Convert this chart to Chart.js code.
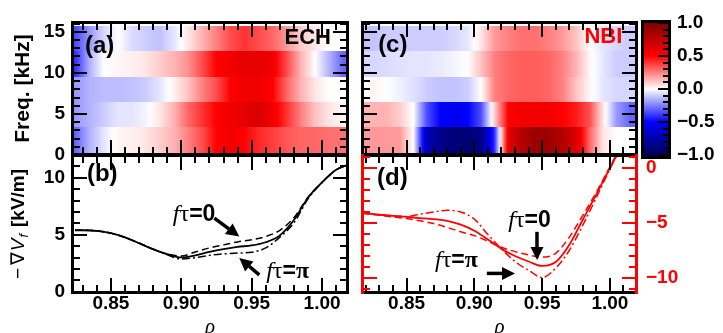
<!DOCTYPE html>
<html>
<head>
<meta charset="utf-8">
<script src="https://cdn.jsdelivr.net/npm/chart.js@4.4.1/dist/chart.umd.min.js"></script>
<style>
body{margin:0;background:#fff;}
#wrap{position:relative;width:723px;height:333px;overflow:hidden;}
#wrap canvas{position:absolute;left:0;top:0;}
</style>
</head>
<body>
<div id="wrap">
<canvas id="cA" width="723" height="333"></canvas>
<canvas id="cB" width="723" height="333"></canvas>
<canvas id="cC" width="723" height="333"></canvas>
<canvas id="cD" width="723" height="333"></canvas>
<canvas id="cBar" width="723" height="333"></canvas>
</div>
<script>
// ---- data ----
// heatmap columns (rho) and frequency bin edges (kHz)
const rhoCols = [0.815,0.825,0.835,0.845,0.855,0.865,0.875,0.885,0.895,0.905,0.915,0.925,0.935,0.945,0.955,0.965,0.975,0.985,0.995,1.005,1.015,1.025];
const freqEdges = [0.25,3.35,6.45,9.55,12.65,15.75];

// ECH coherence, one row per freq bin (bottom to top)
const ech1 = [-0.35,-0.3,-0.15,-0.05,0.02,0.03,0.05,0.1,0.15,0.25,0.35,0.5,0.55,0.5,0.42,0.38,0.33,0.3,0.3,0.28,0.28,0.28];
const ech2 = [-0.2,-0.2,-0.15,-0.1,-0.05,-0.05,-0.02,0.05,0.15,0.3,0.4,0.5,0.55,0.6,0.65,0.55,0.4,0.25,0.12,0.05,0.02,0.02];
const ech3 = [-0.2,-0.2,-0.15,-0.13,-0.13,-0.12,-0.1,-0.05,0.03,0.12,0.25,0.35,0.5,0.55,0.55,0.5,0.3,0.15,0.05,0.0,0.0,0.0];
const ech4 = [-0.4,-0.4,-0.15,0.0,0.02,0.03,0.05,0.1,0.15,0.22,0.35,0.5,0.55,0.6,0.6,0.55,0.35,0.15,0.0,-0.15,-0.3,-0.3];
const ech5 = [-0.35,-0.35,-0.2,-0.08,0.0,-0.07,-0.1,-0.12,-0.05,0.05,0.15,0.25,0.35,0.4,0.35,0.3,0.2,0.1,0.05,0.0,0.0,0.0];

// NBI coherence
const nbi1 = [0.2,0.2,0.2,0.2,0.0,-0.7,-0.85,-0.9,-0.9,-0.85,-0.4,0.6,0.8,0.9,0.88,0.8,0.65,0.3,0.05,0.0,0.0,0.0];
const nbi2 = [0.15,0.15,0.15,0.1,0.0,-0.35,-0.5,-0.55,-0.5,-0.35,0.1,0.5,0.55,0.55,0.55,0.5,0.45,0.35,0.05,-0.2,-0.3,-0.3];
const nbi3 = [0.0,0.02,0.0,-0.03,-0.06,-0.1,-0.12,-0.12,-0.1,0.0,0.25,0.3,0.32,0.32,0.3,0.25,0.12,0.02,-0.05,-0.08,-0.08,-0.08];
const nbi4 = [-0.08,-0.08,-0.07,-0.06,-0.05,-0.05,-0.04,-0.02,0.0,0.12,0.25,0.3,0.32,0.32,0.3,0.25,0.15,0.02,-0.05,-0.1,-0.1,-0.1];
const nbi5 = [-0.12,-0.12,-0.1,-0.1,-0.1,-0.1,-0.1,-0.08,-0.05,0.05,0.2,0.25,0.28,0.28,0.25,0.2,0.12,0.0,-0.05,-0.08,-0.1,-0.1];

// -grad Vf, ECH (kV/m)
const rhoB = [0.8245,0.83,0.84,0.85,0.86,0.87,0.88,0.89,0.90,0.91,0.92,0.93,0.94,0.95,0.96,0.97,0.98,0.99,1.00,1.01,1.0184];
const echSolid   = [5.4,5.4,5.35,5.15,4.78,4.27,3.74,3.3,3.02,3.2,3.5,3.75,3.95,4.07,4.35,4.95,6.3,8.25,9.6,10.7,11.15];
const echDash    = [5.4,5.4,5.35,5.15,4.78,4.27,3.74,3.32,3.15,3.5,3.85,4.12,4.38,4.57,4.85,5.4,6.5,8.3,9.6,10.7,11.15];
const echDashDot = [5.4,5.4,5.35,5.15,4.78,4.27,3.74,3.25,2.88,3.0,3.2,3.33,3.4,3.47,3.85,4.8,6.05,8.15,9.6,10.7,11.15];

// -grad Vf, NBI
const rhoD = [0.8172,0.83,0.84,0.85,0.86,0.87,0.88,0.89,0.90,0.91,0.92,0.93,0.94,0.95,0.96,0.97,0.98,0.99,1.00,1.01,1.02];
const nbiSolid   = [-4.1,-4.25,-4.35,-4.45,-4.55,-4.65,-4.8,-5.15,-5.7,-6.5,-7.35,-8.0,-8.5,-8.9,-8.55,-7.0,-4.7,-2.4,0.0,2.3,4.6];
const nbiDash    = [-4.1,-4.3,-4.45,-4.6,-4.8,-5.05,-5.4,-5.8,-6.15,-6.65,-7.2,-7.6,-7.9,-8.1,-7.75,-6.3,-4.3,-2.2,0.1,2.4,4.7];
const nbiDashDot = [-4.1,-4.25,-4.35,-4.4,-4.2,-4.0,-3.85,-4.0,-4.65,-6.05,-7.35,-8.5,-9.3,-9.95,-9.1,-7.5,-5.2,-2.7,-0.1,2.3,4.6];

// ticks
const rhoMajor = [0.85,0.90,0.95,1.00];
const rhoMinor = [0.82,0.83,0.84,0.86,0.87,0.88,0.89,0.91,0.92,0.93,0.94,0.96,0.97,0.98,0.99,1.01,1.02];
const freqMajor = [0,5,10,15];
const freqMinor = [1,2,3,4,6,7,8,9,11,12,13,14,16];
const gradMajorB = [0,5,10];
const gradMinorB = [1,2,3,4,6,7,8,9,11,12];
const gradMajorD = [0,-5,-10];
const gradMinorD = [1,-1,-2,-3,-4,-6,-7,-8,-9,-11];
const cbMajor = [-1,-0.5,0,0.5,1];
const cbMinor = [-0.9,-0.8,-0.7,-0.6,-0.4,-0.3,-0.2,-0.1,0.1,0.2,0.3,0.4,0.6,0.7,0.8,0.9];

const RED = '#ff0000';
const LS = "'Liberation Sans', Arial, 'DejaVu Sans', sans-serif";
const SER = "'Liberation Serif', 'DejaVu Serif', serif";

// seismic colormap
const seis = [[0,0,0,85],[0.25,0,0,255],[0.5,255,255,255],[0.75,255,0,0],[1,128,0,0]];
function seismic(v){
  let t = Math.max(0, Math.min(1, (v+1)/2));
  for(let i=1;i<seis.length;i++){
    const a=seis[i-1], b=seis[i];
    if(t<=b[0]){
      const f=(t-a[0])/(b[0]-a[0]);
      return 'rgb('+Math.round(a[1]+(b[1]-a[1])*f)+','+Math.round(a[2]+(b[2]-a[2])*f)+','+Math.round(a[3]+(b[3]-a[3])*f)+')';
    }
  }
}

Chart.defaults.font.family = LS;
Chart.defaults.color = '#000';
Chart.defaults.animation = false;
Chart.defaults.responsive = false;
Chart.defaults.devicePixelRatio = 1;
Chart.defaults.plugins.legend.display = false;
Chart.defaults.plugins.tooltip.enabled = false;

// per-canvas frame setup
const frames = {};

// heatmap rows
const heat = {
  id:'heat',
  beforeDatasetsDraw(chart, args, o){
    if(!o.rows) return;
    const {ctx, chartArea:a, scales:{x,y}} = chart;
    ctx.save();
    ctx.beginPath(); ctx.rect(a.left,a.top,a.width,a.height); ctx.clip();
    const x0=x.getPixelForValue(rhoCols[0]), x1=x.getPixelForValue(rhoCols[rhoCols.length-1]);
    o.rows.forEach((row,i)=>{
      const g=ctx.createLinearGradient(x0,0,x1,0);
      for(let j=0;j<row.length-1;j++){
        const p0=x.getPixelForValue(rhoCols[j]), p1=x.getPixelForValue(rhoCols[j+1]);
        for(let k=0;k<=6;k++){
          const f=k/6;
          g.addColorStop((p0+(p1-p0)*f-x0)/(x1-x0), seismic(row[j]+(row[j+1]-row[j])*f));
        }
      }
      const yt=Math.round(y.getPixelForValue(freqEdges[i+1])), yb=Math.round(y.getPixelForValue(freqEdges[i]));
      ctx.fillStyle=g;
      ctx.fillRect(x0,yt,x1-x0,yb-yt);
    });
    ctx.restore();
  }
};

// colorbar
const cbar = {
  id:'cbar',
  beforeDatasetsDraw(chart, args, o){
    if(!o.on) return;
    const {ctx, chartArea:a, scales:{y}} = chart;
    const pa=y.getPixelForValue(-1), pb=y.getPixelForValue(1);
    const g=ctx.createLinearGradient(0,pa,0,pb);
    cbMajor.forEach(v=>g.addColorStop((v+1)/2, seismic(v)));
    ctx.fillStyle=g;
    ctx.fillRect(a.left,a.top,a.width,a.height);
  }
};

// frame with inward ticks
const frame = {
  id:'frame',
  afterDraw(chart){
    const o = frames[chart.canvas.id];
    if(!o) return;
    const ctx = chart.ctx, a = chart.chartArea;
    const L=Math.round(a.left), R=Math.round(a.right), T=Math.round(a.top), B=Math.round(a.bottom);
    const majLen=o.majorLen||15, minLen=o.minorLen||8;
    ctx.save();
    for(const s of o.sides){
      const sc=chart.scales[s.scale];
      const marks=[];
      for(const v of (s.minor||[])) marks.push([v,minLen]);
      for(const v of (s.major||[])) marks.push([v,majLen]);
      ctx.fillStyle=s.color||'#000';
      for(const [v,len] of marks){
        const p=Math.round(sc.getPixelForValue(v));
        if(s.side==='left'){ if(p<T||p>B) continue; ctx.fillRect(L,p-1,len,2); }
        else if(s.side==='right'){ if(p<T||p>B) continue; ctx.fillRect(R-len,p-1,len,2); }
        else if(s.side==='top'){ if(p<L||p>R) continue; ctx.fillRect(p-1,T,2,len); }
        else { if(p<L||p>R) continue; ctx.fillRect(p-1,B-len,2,len); }
      }
      if(s.side==='left') ctx.fillRect(L-1,T-1,3,B-T+2);
      else if(s.side==='right') ctx.fillRect(R-2,T-1,3,B-T+2);
      else if(s.side==='top') ctx.fillRect(L-1,T-1,R-L+2,3);
      else ctx.fillRect(L-1,B-2,R-L+2,3);
    }
    ctx.restore();
  }
};

// rotated y title made of styled pieces
const richTitle = {
  id:'richTitle',
  afterDraw(chart, args, o){
    if(!o.parts) return;
    const {ctx, chartArea:a} = chart;
    ctx.save();
    ctx.translate(a.left+o.dx, (a.top+a.bottom)/2);
    ctx.rotate(-Math.PI/2);
    ctx.textBaseline='middle'; ctx.textAlign='left';
    let total=0;
    o.parts.forEach(p=>{ctx.font=p.f; total+=ctx.measureText(p.t).width+(p.gap||0);});
    let cx=-total/2;
    o.parts.forEach(p=>{
      ctx.font=p.f; ctx.fillStyle='#000';
      ctx.fillText(p.t,cx,p.sy||0);
      cx+=ctx.measureText(p.t).width+(p.gap||0);
    });
    ctx.restore();
  }
};

function drawArrow(ctx,x0,y0,x1,y1){
  const ang=Math.atan2(y1-y0,x1-x0), head=13, w=6.5;
  const bx=x1-Math.cos(ang)*head, by=y1-Math.sin(ang)*head;
  ctx.lineWidth=3.5; ctx.strokeStyle='#000'; ctx.fillStyle='#000';
  ctx.beginPath(); ctx.moveTo(x0,y0); ctx.lineTo(bx,by); ctx.stroke();
  ctx.beginPath(); ctx.moveTo(x1,y1);
  ctx.lineTo(bx+Math.sin(ang)*w, by-Math.cos(ang)*w);
  ctx.lineTo(bx-Math.sin(ang)*w, by+Math.cos(ang)*w);
  ctx.closePath(); ctx.fill();
}

// text and arrows placed in data units
const notes = {
  id:'notes',
  afterDatasetsDraw(chart, args, o){
    if(!o.items) return;
    const {ctx, scales:{x,y}} = chart;
    ctx.save();
    o.items.forEach(it=>{
      if(it.arrow){
        const [r0,v0,r1,v1]=it.arrow;
        drawArrow(ctx,x.getPixelForValue(r0),y.getPixelForValue(v0),x.getPixelForValue(r1),y.getPixelForValue(v1));
        return;
      }
      ctx.textBaseline='middle'; ctx.textAlign='left';
      let total=0;
      it.parts.forEach(p=>{ctx.font=p.f; total+=ctx.measureText(p.t).width;});
      let px=x.getPixelForValue(it.x); if(it.align==='right') px-=total;
      const py=y.getPixelForValue(it.y);
      it.parts.forEach(p=>{
        ctx.font=p.f; ctx.fillStyle=it.color||'#000';
        ctx.fillText(p.t,px,py);
        px+=ctx.measureText(p.t).width;
      });
    });
    ctx.restore();
  }
};

Chart.register(heat, cbar, frame, richTitle, notes);

const pts = (xs, ys) => xs.map((v,i)=>({x:v, y:ys[i]}));
const tickFont = {size:19, weight:'bold', lineHeight:1};
const noGrid = {display:false, drawTicks:false};
const panelFont = 'bold 24px '+LS;
const ftau = (tail) => [
  {t:'f', f:'italic 24px '+SER},
  {t:'τ', f:'24px '+SER},
  {t:'=', f:'bold 23px '+LS},
  tail==='π' ? {t:'π', f:'bold 24px '+SER} : {t:'0', f:'bold 23px '+LS}
];
function sides(ymaj, ymin, ycol){
  return [
    {side:'top', scale:'x', major:rhoMajor, minor:rhoMinor},
    {side:'bottom', scale:'x', major:rhoMajor, minor:rhoMinor},
    {side:'left', scale:'y', major:ymaj, minor:ymin, color:ycol},
    {side:'right', scale:'y', major:ymaj, minor:ymin, color:ycol}
  ];
}
frames.cA = {sides:sides(freqMajor,freqMinor)};
frames.cB = {sides:sides(gradMajorB,gradMinorB)};
frames.cC = {sides:sides(freqMajor,freqMinor)};
frames.cD = {sides:sides(gradMajorD,gradMinorD,RED)};
frames.cBar = {majorLen:12, minorLen:7, sides:[
  {side:'top', scale:'x'},
  {side:'bottom', scale:'x'},
  {side:'left', scale:'y'},
  {side:'right', scale:'y', major:cbMajor, minor:cbMinor}
]};

const lineStyle = {pointRadius:0, fill:false, tension:0.4, cubicInterpolationMode:'monotone'};
const rhoTitle = {display:true, text:'ρ', font:{family:SER, style:'italic', size:21, weight:'normal', lineHeight:1}, padding:{top:0, bottom:-5}};

// (a) ECH heatmap
new Chart('cA', {
  type:'scatter',
  data:{datasets:[]},
  options:{
    layout:{padding:{left:0, top:22, right:375, bottom:178}},
    scales:{
      x:{type:'linear', min:0.8224, max:1.0184, display:false},
      y:{type:'linear', min:0, max:16.2, position:'left', grid:noGrid, border:{display:false},
         afterFit:s=>{s.width=72;},
         afterBuildTicks:s=>{s.ticks=freqMajor.map(v=>({value:v}));},
         ticks:{padding:7, font:tickFont, callback:v=>String(v)}}
    },
    plugins:{
      heat:{rows:[ech1,ech2,ech3,ech4,ech5]},
      richTitle:{dx:-49, parts:[{t:'Freq. [kHz]', f:'bold 21px '+LS}]},
      notes:{items:[
        {parts:[{t:'(a)', f:panelFont}], x:0.8316, y:13.2},
        {parts:[{t:'ECH', f:'bold 22px '+LS}], x:1.0063, y:14.3, align:'right'}
      ]}
    }
  }
});

// (b) ECH -grad Vf
new Chart('cB', {
  type:'line',
  data:{datasets:[
    Object.assign({data:pts(rhoB,echDash), borderColor:'#000', borderWidth:1.5, borderDash:[7,4]}, lineStyle),
    Object.assign({data:pts(rhoB,echDashDot), borderColor:'#000', borderWidth:1.5, borderDash:[8,3,2,3]}, lineStyle),
    Object.assign({data:pts(rhoB,echSolid), borderColor:'#000', borderWidth:1.8}, lineStyle)
  ]},
  options:{
    layout:{padding:{left:0, top:155, right:375, bottom:0}},
    scales:{
      x:{type:'linear', min:0.8224, max:1.0184, position:'bottom', grid:noGrid, border:{display:false},
         afterFit:s=>{s.height=40;},
         afterBuildTicks:s=>{s.ticks=rhoMajor.map(v=>({value:v}));},
         ticks:{padding:1, font:tickFont, autoSkip:false, maxRotation:0, callback:v=>v.toFixed(2)},
         title:rhoTitle},
      y:{type:'linear', min:-0.1, max:12, position:'left', grid:noGrid, border:{display:false},
         afterFit:s=>{s.width=72;},
         afterBuildTicks:s=>{s.ticks=gradMajorB.map(v=>({value:v}));},
         ticks:{padding:7, font:tickFont, callback:v=>String(v)}}
    },
    plugins:{
      richTitle:{dx:-53, parts:[
        {t:'−', f:'19px '+LS, gap:3},
        {t:'∇', f:'19px '+LS, gap:1},
        {t:'V', f:'italic 19px '+LS, gap:1},
        {t:'f', f:'italic 13px '+LS, sy:5, gap:7},
        {t:'[kV/m]', f:'bold 19px '+LS}
      ]},
      notes:{items:[
        {parts:[{t:'(b)', f:panelFont}], x:0.833, y:10.26},
        {parts:ftau('0'), x:0.894, y:6.75},
        {arrow:[0.9235,6.46,0.9412,4.85]},
        {parts:ftau('π'), x:0.9603, y:1.75},
        {arrow:[0.9554,1.49,0.9412,2.96]}
      ]}
    }
  }
});

// (c) NBI heatmap
new Chart('cC', {
  type:'scatter',
  data:{datasets:[]},
  options:{
    layout:{padding:{left:362, top:22, right:86, bottom:178}},
    scales:{
      x:{type:'linear', min:0.8171, max:1.020, display:false},
      y:{type:'linear', min:0, max:16.2, display:false}
    },
    plugins:{
      heat:{rows:[nbi1,nbi2,nbi3,nbi4,nbi5]},
      notes:{items:[
        {parts:[{t:'(c)', f:panelFont}], x:0.829, y:13.4},
        {parts:[{t:'NBI', f:'bold 22px '+LS}], x:1.0092, y:14.4, align:'right', color:RED}
      ]}
    }
  }
});

// (d) NBI -grad Vf
new Chart('cD', {
  type:'line',
  data:{datasets:[
    Object.assign({data:pts(rhoD,nbiDash), borderColor:RED, borderWidth:1.5, borderDash:[7,4]}, lineStyle),
    Object.assign({data:pts(rhoD,nbiDashDot), borderColor:RED, borderWidth:1.5, borderDash:[8,3,2,3]}, lineStyle),
    Object.assign({data:pts(rhoD,nbiSolid), borderColor:RED, borderWidth:1.8}, lineStyle)
  ]},
  options:{
    layout:{padding:{left:362, top:155, right:0, bottom:0}},
    scales:{
      x:{type:'linear', min:0.8171, max:1.020, position:'bottom', grid:noGrid, border:{display:false},
         afterFit:s=>{s.height=40;},
         afterBuildTicks:s=>{s.ticks=rhoMajor.map(v=>({value:v}));},
         ticks:{padding:1, font:tickFont, autoSkip:false, maxRotation:0, callback:v=>v.toFixed(2)},
         title:rhoTitle},
      y:{type:'linear', min:-11.36, max:1.18, position:'right', grid:noGrid, border:{display:false},
         afterFit:s=>{s.width=86;},
         afterBuildTicks:s=>{s.ticks=gradMajorD.map(v=>({value:v}));},
         ticks:{padding:9, font:tickFont, color:RED, callback:v=>v===0?'0':'−'+Math.abs(v)}}
    },
    plugins:{
      notes:{items:[
        {parts:[{t:'(d)', f:panelFont}], x:0.8282, y:-0.91},
        {parts:ftau('0'), x:0.925, y:-4.8},
        {arrow:[0.9462,-5.8,0.9462,-8.36]},
        {parts:ftau('π'), x:0.871, y:-8.45},
        {arrow:[0.9092,-9.58,0.930,-9.58]}
      ]}
    }
  }
});

// colorbar
new Chart('cBar', {
  type:'scatter',
  data:{datasets:[]},
  options:{
    layout:{padding:{left:642, top:21, right:0, bottom:175}},
    scales:{
      x:{type:'linear', min:0, max:1, display:false},
      y:{type:'linear', min:-1.045, max:1.03, position:'right', grid:noGrid, border:{display:false},
         afterFit:s=>{s.width=53;},
         afterBuildTicks:s=>{s.ticks=cbMajor.map(v=>({value:v}));},
         ticks:{padding:7, font:tickFont, callback:v=>(v<0?'−':'')+Math.abs(v).toFixed(1)}}
    },
    plugins:{
      cbar:{on:true}
    }
  }
});
</script>
</body>
</html>
